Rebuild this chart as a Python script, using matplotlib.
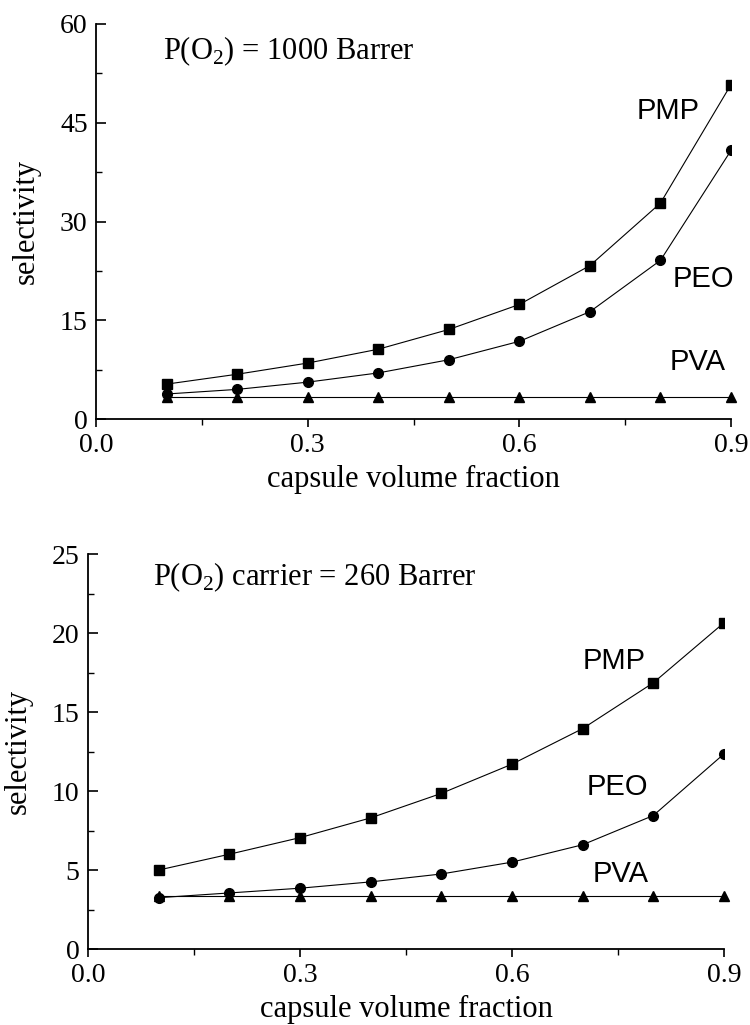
import numpy as np
import matplotlib
matplotlib.use('Agg')
import matplotlib.pyplot as plt
from matplotlib.ticker import MultipleLocator

plt.rcParams['font.family'] = 'Liberation Serif'
plt.rcParams['mathtext.fontset'] = 'custom'
plt.rcParams['mathtext.rm'] = 'Liberation Serif'

frac = [0.1, 0.2, 0.3, 0.4, 0.5, 0.6, 0.7, 0.8, 0.9]

# P(O2) = 1000 Barrer
pmp_a = [5.3, 6.8, 8.5, 10.6, 13.6, 17.4, 23.3, 32.8, 50.8]
peo_a = [3.8, 4.5, 5.6, 7.0, 9.0, 11.8, 16.3, 24.1, 40.8]
pva_a = [3.4, 3.4, 3.4, 3.4, 3.4, 3.4, 3.4, 3.4, 3.4]

# P(O2) carrier = 260 Barrer
pmp_b = [5.0, 6.0, 7.05, 8.3, 9.85, 11.7, 13.95, 16.85, 20.65]
peo_b = [3.25, 3.55, 3.85, 4.25, 4.75, 5.5, 6.6, 8.45, 12.35]
pva_b = [3.35, 3.35, 3.35, 3.35, 3.35, 3.35, 3.35, 3.35, 3.35]

titles = ['P(O$_2$) = 1000 Barrer', 'P(O$_2$) carrier = 260 Barrer']


def panel(ax, pmp, peo, pva, ymax, ystep, title, title_xy, lab_xy):
    ax.plot(frac, pmp, color='k', lw=0.8, marker='s', ms=7)
    ax.plot(frac, peo, color='k', lw=0.8, marker='o', ms=7)
    ax.plot(frac, pva, color='k', lw=0.8, marker='^', ms=7, clip_on=False)

    ax.set_xlim(0, 0.9)
    ax.set_ylim(0, ymax)
    ax.set_xticks([0, 0.3, 0.6, 0.9])
    ax.set_xticklabels(['0.0', '0.3', '0.6', '0.9'])
    ax.xaxis.set_minor_locator(MultipleLocator(0.15))
    ax.yaxis.set_major_locator(MultipleLocator(ystep))
    ax.yaxis.set_minor_locator(MultipleLocator(ystep / 2))

    for s in ['top', 'right']:
        ax.spines[s].set_visible(False)
    for s in ['left', 'bottom']:
        ax.spines[s].set_linewidth(1.3)
    ax.tick_params(axis='x', which='major', direction='out', length=6,
                   width=1.2, labelsize=20, pad=4)
    ax.tick_params(axis='x', which='minor', direction='out', length=4,
                   width=1.0)
    ax.tick_params(axis='y', which='major', direction='in', length=7,
                   width=1.2, labelsize=20, pad=6)
    ax.tick_params(axis='y', which='minor', direction='in', length=4,
                   width=1.0)

    ax.set_xlabel('capsule volume fraction', fontsize=22, labelpad=5)
    ax.set_ylabel('selectivity', fontsize=22, labelpad=14)

    ax.text(title_xy[0], title_xy[1], title, fontsize=22)
    for name, (x, y) in zip(['PMP', 'PEO', 'PVA'], lab_xy):
        ax.text(x, y, name, fontsize=21, family='Liberation Sans')


fig = plt.figure(figsize=(7.5, 10.25), dpi=100)

ax1 = fig.add_axes([0.128, 0.5912, 0.8467, 0.3854])
panel(ax1, pmp_a, peo_a, pva_a, 60, 15, titles[0], (0.095, 54.7),
      [(0.766, 45.5), (0.817, 20.1), (0.8125, 7.4)])

ax2 = fig.add_axes([0.1173, 0.0741, 0.848, 0.3854])
panel(ax2, pmp_b, peo_b, pva_b, 25, 5, titles[1], (0.092, 23.0),
      [(0.700, 17.7), (0.706, 9.76), (0.7145, 4.24)])

fig.savefig('out.png', dpi=100)
